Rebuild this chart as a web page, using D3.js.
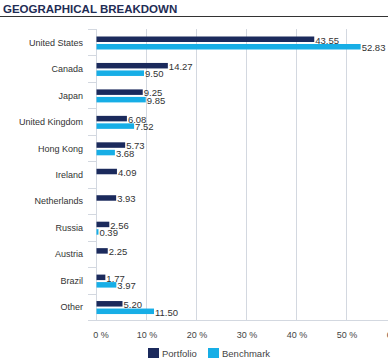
<!DOCTYPE html>
<html>
<head>
<meta charset="utf-8">
<script src="https://cdn.jsdelivr.net/npm/d3@7"></script>
<style>
  body { margin: 0; background: #fff; }
  text { font-family: "Liberation Sans", Arial, sans-serif; }
</style>
</head>
<body>
<script>
const width = 388;
const height = 363;

const countries = ["United States", "Canada", "Japan", "United Kingdom", "Hong Kong",
    "Ireland", "Netherlands", "Russia", "Austria", "Brazil", "Other"];
const portfolio = [43.55, 14.27, 9.25, 6.08, 5.73, 4.09, 3.93, 2.56, 2.25, 1.77, 5.20];
const benchmark = [52.83, 9.50, 9.85, 7.52, 3.68, null, null, 0.39, null, 3.97, 11.50];
const ticks = [0, 10, 20, 30, 40, 50, 60];

const darkBlue = "#1b2a5c";
const lightBlue = "#17aee6";
const gridColor = "#d3d8e0";

const svg = d3.select("body")
    .append("svg")
    .attr("width", width)
    .attr("height", height);

// title
svg.append("text")
    .attr("x", 3)
    .attr("y", 13)
    .attr("font-size", 11.5)
    .attr("font-weight", "bold")
    .attr("fill", "#1f2d55")
    .text("GEOGRAPHICAL BREAKDOWN");

svg.append("line")
    .attr("x1", 0).attr("x2", width)
    .attr("y1", 16.5).attr("y2", 16.5)
    .attr("stroke", "#333")
    .attr("stroke-width", 1);

const xScale = d3.scaleLinear()
    .domain([0, 60])
    .range([96, 396]);

const yScale = d3.scaleBand()
    .domain(countries)
    .range([29, 320]);

// grid lines
svg.selectAll(".grid")
    .data(ticks)
    .enter()
    .append("line")
    .attr("x1", d => Math.round(xScale(d)) + 0.5)
    .attr("x2", d => Math.round(xScale(d)) + 0.5)
    .attr("y1", 29)
    .attr("y2", 320)
    .attr("stroke", gridColor)
    .attr("stroke-width", 1);

// bottom axis line
svg.append("line")
    .attr("x1", 96).attr("x2", width)
    .attr("y1", 320.5).attr("y2", 320.5)
    .attr("stroke", gridColor);

// category separators on the left
const seps = yScale.domain().map(d => yScale(d)).concat([320]);
svg.selectAll(".sep")
    .data(seps)
    .enter()
    .append("line")
    .attr("x1", 88).attr("x2", 96)
    .attr("y1", d => Math.round(d) + 0.5)
    .attr("y2", d => Math.round(d) + 0.5)
    .attr("stroke", gridColor);

// category labels
svg.selectAll(".cat")
    .data(countries)
    .enter()
    .append("text")
    .attr("x", 83)
    .attr("y", d => yScale(d) + yScale.bandwidth() / 2 + 3.5)
    .attr("text-anchor", "end")
    .attr("font-size", 9)
    .attr("fill", "#333")
    .text(d => d);

const barH = 5.5;

function drawSeries(values, color, offset) {
    const rows = countries.map((c, i) => ({ c: c, v: values[i] })).filter(d => d.v !== null);
    svg.selectAll(null)
        .data(rows)
        .enter()
        .append("rect")
        .attr("x", xScale(0) + 0.5)
        .attr("y", d => yScale(d.c) + offset)
        .attr("width", d => xScale(d.v) - xScale(0))
        .attr("height", barH)
        .attr("fill", color);

    svg.selectAll(null)
        .data(rows)
        .enter()
        .append("text")
        .attr("x", d => xScale(d.v) + 1.5)
        .attr("y", d => yScale(d.c) + offset + barH + 1.5)
        .attr("font-size", 9.5)
        .attr("fill", "#333")
        .text(d => d.v.toFixed(2));
}

drawSeries(portfolio, darkBlue, 7.5);
drawSeries(benchmark, lightBlue, 15);

// x tick labels
svg.selectAll(".tick")
    .data(ticks)
    .enter()
    .append("text")
    .attr("x", d => xScale(d) + (d === 0 ? 5 : 1))
    .attr("y", 338)
    .attr("text-anchor", "middle")
    .attr("font-size", 9)
    .attr("fill", "#444")
    .text(d => d + " %");

// legend
const legend = [
    { name: "Portfolio", color: darkBlue, x: 148 },
    { name: "Benchmark", color: lightBlue, x: 208 }
];

svg.selectAll(".lsq")
    .data(legend)
    .enter()
    .append("rect")
    .attr("x", d => d.x)
    .attr("y", 348)
    .attr("width", 11)
    .attr("height", 10)
    .attr("fill", d => d.color);

svg.selectAll(".ltx")
    .data(legend)
    .enter()
    .append("text")
    .attr("x", d => d.x + 14)
    .attr("y", 357)
    .attr("font-size", 9.5)
    .attr("fill", "#444")
    .text(d => d.name);
</script>
</body>
</html>
